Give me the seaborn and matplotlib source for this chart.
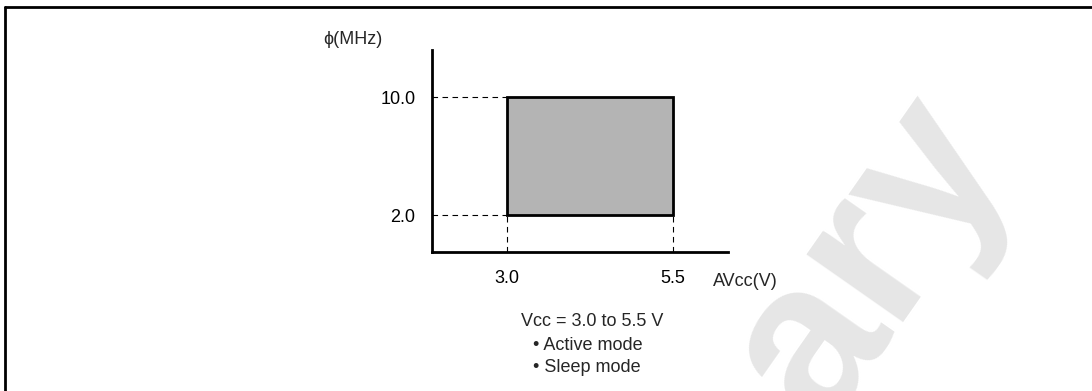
import matplotlib
matplotlib.use("Agg")
import matplotlib.pyplot as plt
from matplotlib.lines import Line2D
from matplotlib.patches import Rectangle
import seaborn as sns

# === data ===
v_range = [3.0, 5.5]          # AVcc (V)
f_range = [2.0, 10.0]         # phi (MHz)
x_ticklabels = ["3.0", "5.5"]
y_ticklabels = ["2.0", "10.0"]
notes = ["Vcc = 3.0 to 5.5 V", "\u2022 Active mode", "\u2022 Sleep mode"]
watermark = "ary"

sns.set_theme(style="white")
plt.rcParams["font.family"] = ["Liberation Sans", "DejaVu Sans"]

W, H = 1092, 391
fig = plt.figure(figsize=(W / 100, H / 100), dpi=100)


def px(x, y):
    """pixel (from top-left) -> figure fraction"""
    return x / W, 1 - y / H


# axes box in pixels: left 432, right 728, top 50, bottom 252
ax = fig.add_axes([432 / W, 1 - 252 / H, (728 - 432) / W, (252 - 50) / H])
ax.set_facecolor("none")

ax.set_xlim(1.8705, 6.328)
ax.set_ylim(-0.508, 13.19)

# operating area
ax.add_patch(Rectangle((v_range[0], f_range[0]), v_range[1] - v_range[0],
                       f_range[1] - f_range[0], facecolor="#b4b4b4",
                       edgecolor="black", linewidth=2, zorder=3))

# dashed guides
dash = dict(color="black", linewidth=0.8, linestyle=(0, (5, 4)), zorder=2)
for f in f_range:
    ax.plot([ax.get_xlim()[0], v_range[0]], [f, f], **dash)
for v in v_range:
    ax.plot([v, v], [ax.get_ylim()[0], f_range[0]], **dash)

sns.despine(ax=ax)
for s in ["left", "bottom"]:
    ax.spines[s].set_linewidth(2)
    ax.spines[s].set_color("black")

ax.set_xticks(v_range)
ax.set_xticklabels(x_ticklabels)
ax.set_yticks(f_range)
ax.set_yticklabels(y_ticklabels)
ax.tick_params(axis="both", length=0, labelsize=13, colors="black")
ax.tick_params(axis="x", pad=13)
ax.tick_params(axis="y", pad=12)

# axis titles
fig.text(*px(323, 39), "\u03d5(MHz)", fontsize=13, ha="left", va="center")
fig.text(*px(713, 282), "AVcc(V)", fontsize=13, ha="left", va="center")

# notes
fig.text(*px(592, 322), notes[0], fontsize=13, ha="center", va="center")
fig.text(*px(533, 345), notes[1], fontsize=13, ha="left", va="center")
fig.text(*px(533, 367), notes[2], fontsize=13, ha="left", va="center")

# watermark (tail of a diagonal "Preliminary", cut by the page edge)
fig.text(*px(822, 430), watermark, fontsize=160, fontweight="bold",
         color="#e6e6e6", rotation=55, rotation_mode="anchor",
         ha="left", va="baseline", zorder=0)

# frame (only top and left edges visible)
fig.add_artist(Line2D([5 / W, 5 / W], [-0.1, 1 - 6.5 / H], color="black", linewidth=2))
fig.add_artist(Line2D([5 / W, 1.1], [1 - 6.5 / H, 1 - 6.5 / H], color="black", linewidth=2))

fig.savefig("out.png", dpi=100)
